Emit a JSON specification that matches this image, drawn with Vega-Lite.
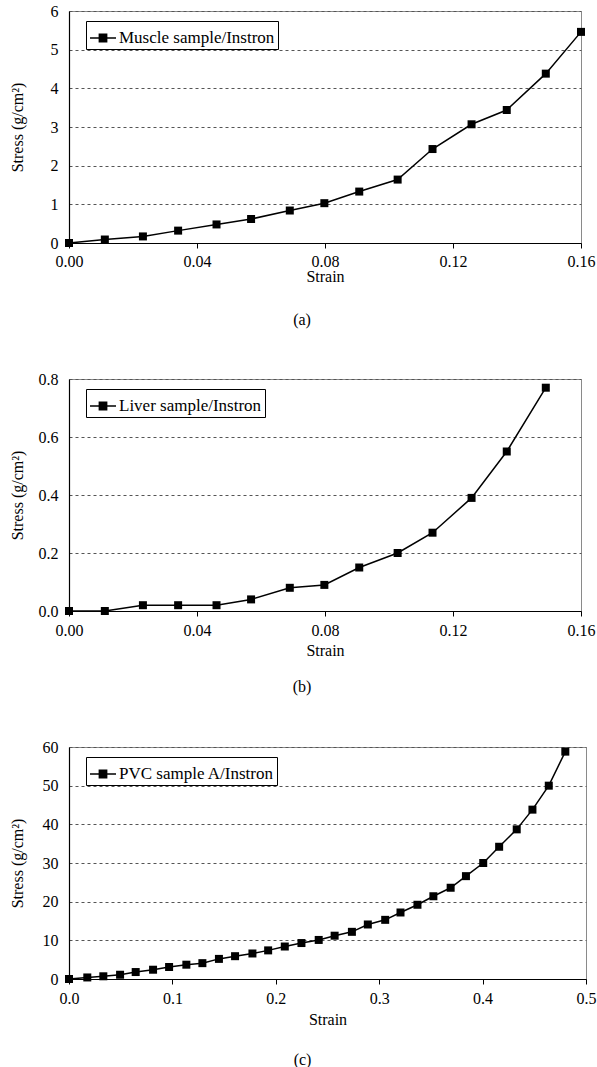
{
  "$schema": "https://vega.github.io/schema/vega-lite/v6.json",
  "padding": {"top": 2, "left": 8, "right": 2, "bottom": 2},
  "background": "white",
  "spacing": 136,
  "bounds": "flush",
  "datasets": {
    "muscle": [
      {"strain": 0.0, "stress": 0.0, "series": "Muscle sample/Instron"},
      {"strain": 0.0112, "stress": 0.09, "series": "Muscle sample/Instron"},
      {"strain": 0.0231, "stress": 0.17, "series": "Muscle sample/Instron"},
      {"strain": 0.0341, "stress": 0.32, "series": "Muscle sample/Instron"},
      {"strain": 0.0461, "stress": 0.48, "series": "Muscle sample/Instron"},
      {"strain": 0.0569, "stress": 0.62, "series": "Muscle sample/Instron"},
      {"strain": 0.069, "stress": 0.84, "series": "Muscle sample/Instron"},
      {"strain": 0.0798, "stress": 1.03, "series": "Muscle sample/Instron"},
      {"strain": 0.0907, "stress": 1.33, "series": "Muscle sample/Instron"},
      {"strain": 0.1027, "stress": 1.64, "series": "Muscle sample/Instron"},
      {"strain": 0.1136, "stress": 2.43, "series": "Muscle sample/Instron"},
      {"strain": 0.1258, "stress": 3.07, "series": "Muscle sample/Instron"},
      {"strain": 0.1368, "stress": 3.44, "series": "Muscle sample/Instron"},
      {"strain": 0.149, "stress": 4.38, "series": "Muscle sample/Instron"},
      {"strain": 0.16, "stress": 5.46, "series": "Muscle sample/Instron"}
    ],
    "liver": [
      {"strain": 0.0, "stress": 0.0, "series": "Liver sample/Instron"},
      {"strain": 0.0112, "stress": 0.0, "series": "Liver sample/Instron"},
      {"strain": 0.0231, "stress": 0.02, "series": "Liver sample/Instron"},
      {"strain": 0.0341, "stress": 0.02, "series": "Liver sample/Instron"},
      {"strain": 0.0461, "stress": 0.02, "series": "Liver sample/Instron"},
      {"strain": 0.0569, "stress": 0.04, "series": "Liver sample/Instron"},
      {"strain": 0.069, "stress": 0.08, "series": "Liver sample/Instron"},
      {"strain": 0.0798, "stress": 0.09, "series": "Liver sample/Instron"},
      {"strain": 0.0907, "stress": 0.15, "series": "Liver sample/Instron"},
      {"strain": 0.1027, "stress": 0.2, "series": "Liver sample/Instron"},
      {"strain": 0.1136, "stress": 0.27, "series": "Liver sample/Instron"},
      {"strain": 0.1258, "stress": 0.39, "series": "Liver sample/Instron"},
      {"strain": 0.1368, "stress": 0.55, "series": "Liver sample/Instron"},
      {"strain": 0.149, "stress": 0.77, "series": "Liver sample/Instron"}
    ],
    "pvc": [
      {"strain": 0.0, "stress": 0.0, "series": "PVC sample A/Instron"},
      {"strain": 0.0177, "stress": 0.4, "series": "PVC sample A/Instron"},
      {"strain": 0.0332, "stress": 0.7, "series": "PVC sample A/Instron"},
      {"strain": 0.0494, "stress": 1.1, "series": "PVC sample A/Instron"},
      {"strain": 0.0645, "stress": 1.8, "series": "PVC sample A/Instron"},
      {"strain": 0.0813, "stress": 2.4, "series": "PVC sample A/Instron"},
      {"strain": 0.0968, "stress": 3.1, "series": "PVC sample A/Instron"},
      {"strain": 0.1135, "stress": 3.7, "series": "PVC sample A/Instron"},
      {"strain": 0.129, "stress": 4.1, "series": "PVC sample A/Instron"},
      {"strain": 0.145, "stress": 5.2, "series": "PVC sample A/Instron"},
      {"strain": 0.1606, "stress": 5.9, "series": "PVC sample A/Instron"},
      {"strain": 0.1774, "stress": 6.6, "series": "PVC sample A/Instron"},
      {"strain": 0.1926, "stress": 7.4, "series": "PVC sample A/Instron"},
      {"strain": 0.2087, "stress": 8.4, "series": "PVC sample A/Instron"},
      {"strain": 0.2248, "stress": 9.3, "series": "PVC sample A/Instron"},
      {"strain": 0.2415, "stress": 10.1, "series": "PVC sample A/Instron"},
      {"strain": 0.2569, "stress": 11.2, "series": "PVC sample A/Instron"},
      {"strain": 0.2736, "stress": 12.2, "series": "PVC sample A/Instron"},
      {"strain": 0.289, "stress": 14.1, "series": "PVC sample A/Instron"},
      {"strain": 0.3058, "stress": 15.3, "series": "PVC sample A/Instron"},
      {"strain": 0.3206, "stress": 17.2, "series": "PVC sample A/Instron"},
      {"strain": 0.337, "stress": 19.2, "series": "PVC sample A/Instron"},
      {"strain": 0.3524, "stress": 21.4, "series": "PVC sample A/Instron"},
      {"strain": 0.3691, "stress": 23.6, "series": "PVC sample A/Instron"},
      {"strain": 0.3839, "stress": 26.6, "series": "PVC sample A/Instron"},
      {"strain": 0.4006, "stress": 30.0, "series": "PVC sample A/Instron"},
      {"strain": 0.416, "stress": 34.2, "series": "PVC sample A/Instron"},
      {"strain": 0.433, "stress": 38.7, "series": "PVC sample A/Instron"},
      {"strain": 0.4482, "stress": 43.8, "series": "PVC sample A/Instron"},
      {"strain": 0.464, "stress": 50.0, "series": "PVC sample A/Instron"},
      {"strain": 0.48, "stress": 58.8, "series": "PVC sample A/Instron"}
    ]
  },
  "config": {
    "font": "Liberation Serif",
    "view": {"stroke": "#8a8a8a", "strokeWidth": 1},
    "axis": {
      "labelFont": "Liberation Serif",
      "labelFontSize": 16,
      "labelColor": "black",
      "titleFont": "Liberation Serif",
      "titleFontSize": 16,
      "titleFontWeight": "normal",
      "titleColor": "black",
      "domainColor": "black",
      "domainWidth": 1.2,
      "tickColor": "black"
    },
    "axisX": {
      "grid": false,
      "tickSize": 5,
      "labelPadding": 6,
      "titlePadding": 3,
      "labelFlush": false
    },
    "axisY": {
      "ticks": false,
      "tickSize": 0,
      "labelPadding": 11,
      "gridColor": "#555555",
      "gridDash": [3, 3],
      "gridWidth": 1,
      "titleX": -52,
      "titleY": 116,
      "titleAngle": -90,
      "titleBaseline": "middle",
      "titleAlign": "center"
    },
    "title": {
      "font": "Liberation Serif",
      "fontSize": 16,
      "fontWeight": "normal",
      "color": "black",
      "orient": "bottom",
      "anchor": "middle",
      "frame": "bounds"
    },
    "legend": {
      "orient": "none",
      "legendX": 17,
      "legendY": 10,
      "title": null,
      "strokeColor": "black",
      "fillColor": "white",
      "padding": 3,
      "labelFont": "Liberation Serif",
      "labelFontSize": 17,
      "labelColor": "black",
      "labelOffset": 2,
      "symbolType": "M-1,0H1M-0.28,-0.28H0.28V0.28H-0.28Z",
      "symbolSize": 676,
      "symbolFillColor": "black",
      "symbolStrokeColor": "black",
      "symbolStrokeWidth": 1.5,
      "symbolOpacity": 1
    }
  },
  "resolve": {"scale": {"color": "independent"}, "legend": {"color": "independent"}},
  "vconcat": [
    {
      "width": 512,
      "height": 232,
      "title": {"text": "(a)", "offset": 28},
      "data": {"name": "muscle"},
      "encoding": {
        "x": {"field": "strain", "type": "quantitative", "title": "Strain",
              "scale": {"domain": [0, 0.16], "nice": false},
              "axis": {"values": [0, 0.04, 0.08, 0.12, 0.16], "format": ".2f", "labelPadding": 5, "titlePadding": -1}},
        "y": {"field": "stress", "type": "quantitative", "title": "Stress (g/cm²)",
              "scale": {"domain": [0, 6], "nice": false},
              "axis": {"values": [0, 1, 2, 3, 4, 5, 6], "format": "d"}}
      },
      "layer": [
        {"mark": {"type": "line", "color": "black", "strokeWidth": 1.5}},
        {"mark": {"type": "point", "shape": "square", "filled": true, "size": 64, "opacity": 1},
         "encoding": {"color": {"field": "series", "type": "nominal", "scale": {"range": ["black"]}}}}
      ]
    },
    {
      "width": 512,
      "height": 232,
      "title": {"text": "(b)", "offset": 21},
      "data": {"name": "liver"},
      "encoding": {
        "x": {"field": "strain", "type": "quantitative", "title": "Strain",
              "scale": {"domain": [0, 0.16], "nice": false},
              "axis": {"values": [0, 0.04, 0.08, 0.12, 0.16], "format": ".2f", "titlePadding": 4}},
        "y": {"field": "stress", "type": "quantitative", "title": "Stress (g/cm²)",
              "scale": {"domain": [0, 0.8], "nice": false},
              "axis": {"values": [0, 0.2, 0.4, 0.6, 0.8], "format": ".1f"}}
      },
      "layer": [
        {"mark": {"type": "line", "color": "black", "strokeWidth": 1.5}},
        {"mark": {"type": "point", "shape": "square", "filled": true, "size": 64, "opacity": 1},
         "encoding": {"color": {"field": "series", "type": "nominal", "scale": {"range": ["black"]}}}}
      ]
    },
    {
      "width": 517,
      "height": 232,
      "title": {"text": "(c)", "offset": 25},
      "data": {"name": "pvc"},
      "encoding": {
        "x": {"field": "strain", "type": "quantitative", "title": "Strain",
              "scale": {"domain": [0, 0.5], "nice": false},
              "axis": {"values": [0, 0.1, 0.2, 0.3, 0.4, 0.5], "format": ".1f", "titlePadding": 5}},
        "y": {"field": "stress", "type": "quantitative", "title": "Stress (g/cm²)",
              "scale": {"domain": [0, 60], "nice": false},
              "axis": {"values": [0, 10, 20, 30, 40, 50, 60], "format": "d"}}
      },
      "layer": [
        {"mark": {"type": "line", "color": "black", "strokeWidth": 1.5}},
        {"mark": {"type": "point", "shape": "square", "filled": true, "size": 64, "opacity": 1},
         "encoding": {"color": {"field": "series", "type": "nominal", "scale": {"range": ["black"]}}}}
      ]
    }
  ]
}
